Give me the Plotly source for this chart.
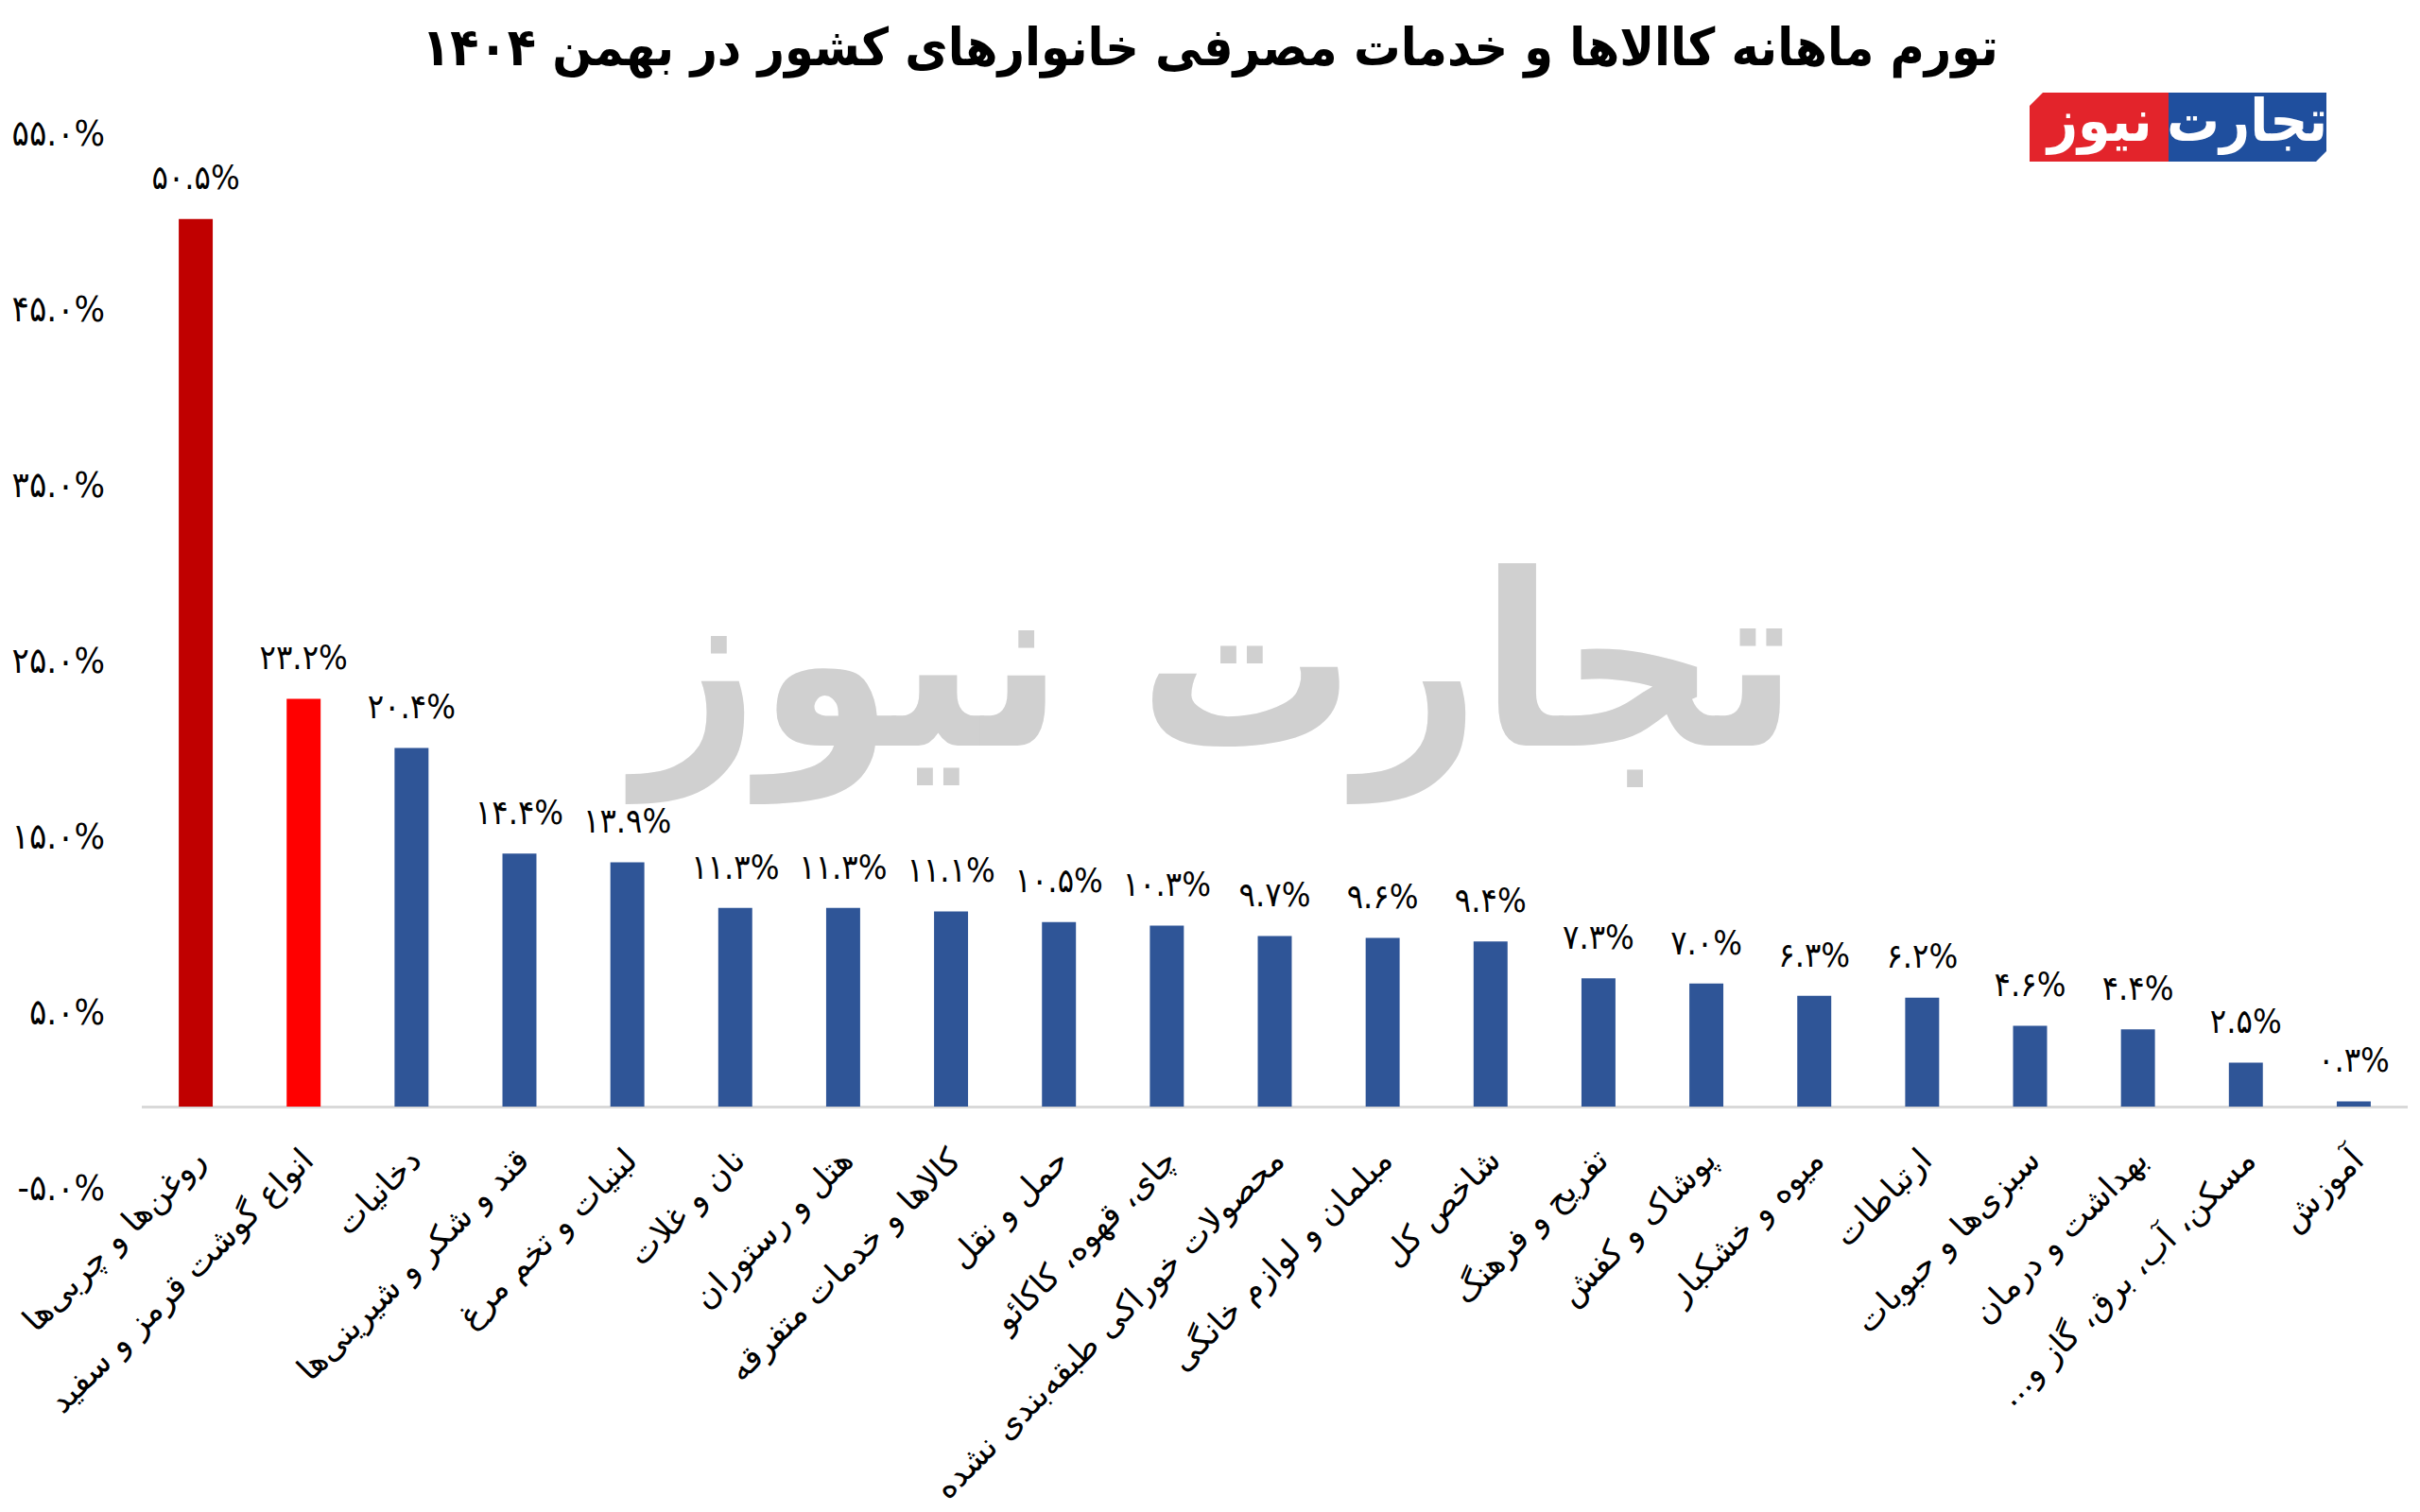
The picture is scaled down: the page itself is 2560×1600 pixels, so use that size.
"""Monthly inflation of household goods and services, Bahman 1404."""

import plotly.graph_objects as go

categories = [
    "روغن‌ها و چربی‌ها",
    "انواع گوشت قرمز و سفید",
    "دخانیات",
    "قند و شکر و شیرینی‌ها",
    "لبنیات و تخم مرغ",
    "نان و غلات",
    "هتل و رستوران",
    "کالاها و خدمات متفرقه",
    "حمل و نقل",
    "چای، قهوه، کاکائو",
    "محصولات خوراکی طبقه‌بندی نشده",
    "مبلمان و لوازم خانگی",
    "شاخص کل",
    "تفریح و فرهنگ",
    "پوشاک و کفش",
    "میوه و خشکبار",
    "ارتباطات",
    "سبزی‌ها و حبوبات",
    "بهداشت و درمان",
    "مسکن، آب، برق، گاز و...\u200f",
    "آموزش",
]
inflation = [50.5, 23.2, 20.4, 14.4, 13.9, 11.3, 11.3, 11.1, 10.5, 10.3, 9.7,
             9.6, 9.4, 7.3, 7.0, 6.3, 6.2, 4.6, 4.4, 2.5, 0.3]
y_ticks = [-5, 5, 15, 25, 35, 45, 55]

TITLE = "تورم ماهانه کاالاها و خدمات مصرفی خانوارهای کشور در بهمن ۱۴۰۴"
BRAND_A = "تجارت"
BRAND_B = "نیوز"

FA_DIGITS = str.maketrans("0123456789", "۰۱۲۳۴۵۶۷۸۹")


def fa_pct(v):
    return f"{v:.1f}%".translate(FA_DIGITS)


colors = ["#C00000", "#FF0000"] + ["#2F5597"] * (len(inflation) - 2)

W, H = 2560, 1600
L, R, T, B = 150, 13, 148, 336


def px_x(x):
    return (x - L) / (W - L - R)


def px_y(y):
    return (H - B - y) / (H - T - B)


fig = go.Figure()

fig.add_trace(go.Bar(
    x=categories,
    y=inflation,
    marker=dict(color=colors, line=dict(width=0)),
    hoverinfo="skip",
))

# value labels, lifted a little above the bar tops by an invisible marker
fig.add_trace(go.Scatter(
    x=categories,
    y=inflation,
    mode="markers+text",
    marker=dict(size=34, color="rgba(0,0,0,0)"),
    text=[fa_pct(v) for v in inflation],
    textposition="top center",
    cliponaxis=False,
    textfont=dict(family="DejaVu Sans Condensed", size=36, color="black"),
    hoverinfo="skip",
))

# watermark
fig.add_annotation(
    text=BRAND_A + " " + BRAND_B,
    xref="paper", yref="paper", x=px_x(1281), y=px_y(702),
    xanchor="center", yanchor="middle",
    showarrow=False,
    font=dict(family="DejaVu Sans Condensed", size=254, color="#D0D0D0",
              weight="bold"),
)

# logo top right
fig.add_shape(
    type="path", xref="paper", yref="paper", layer="below", line_width=0,
    fillcolor="#E3242B",
    path=(f"M {px_x(2147)},{px_y(171)} L {px_x(2147)},{px_y(112)} "
          f"L {px_x(2161)},{px_y(98)} L {px_x(2294)},{px_y(98)} "
          f"L {px_x(2294)},{px_y(171)} Z"),
)
fig.add_shape(
    type="path", xref="paper", yref="paper", layer="below", line_width=0,
    fillcolor="#1F4F9E",
    path=(f"M {px_x(2294)},{px_y(171)} L {px_x(2294)},{px_y(98)} "
          f"L {px_x(2461)},{px_y(98)} L {px_x(2461)},{px_y(160)} "
          f"L {px_x(2450)},{px_y(171)} Z"),
)
for word, cx in ((BRAND_B, 2220), (BRAND_A, 2377)):
    fig.add_annotation(
        text=word, xref="paper", yref="paper", x=px_x(cx), y=px_y(128),
        xanchor="center", yanchor="middle",
        showarrow=False,
        font=dict(family="DejaVu Sans Condensed", size=62, color="white",
                  weight="bold"),
    )

fig.update_layout(
    width=W, height=H,
    margin=dict(l=L, r=R, t=T, b=B),
    paper_bgcolor="white",
    plot_bgcolor="white",
    showlegend=False,
    bargap=0.685,
    title=dict(
        text=TITLE, x=0.5, xref="container", xanchor="center",
        y=1 - 50 / H, yanchor="middle",
        font=dict(family="DejaVu Sans Condensed", size=55, color="black",
                  weight="bold"),
    ),
    xaxis=dict(
        automargin=False,
        range=[-0.5, len(categories) - 0.5],
        showgrid=False, showline=False, zeroline=False,
        tickangle=-45,
        ticklabelstandoff=-65,
        tickfont=dict(family="DejaVu Sans", size=35, color="black"),
    ),
    yaxis=dict(
        automargin=False,
        range=[-5, 55],
        tickvals=y_ticks,
        ticktext=[fa_pct(v) for v in y_ticks],
        showgrid=False, showline=False,
        zeroline=True, zerolinecolor="#D9D9D9", zerolinewidth=3,
        ticklabelstandoff=38,
        ticklabelshift=-7,
        tickfont=dict(family="DejaVu Sans Condensed", size=38, color="black"),
    ),
)

fig.write_html(
    "out.html",
    config={"displayModeBar": False},
    post_script="document.body.style.margin = '0px';",
)
